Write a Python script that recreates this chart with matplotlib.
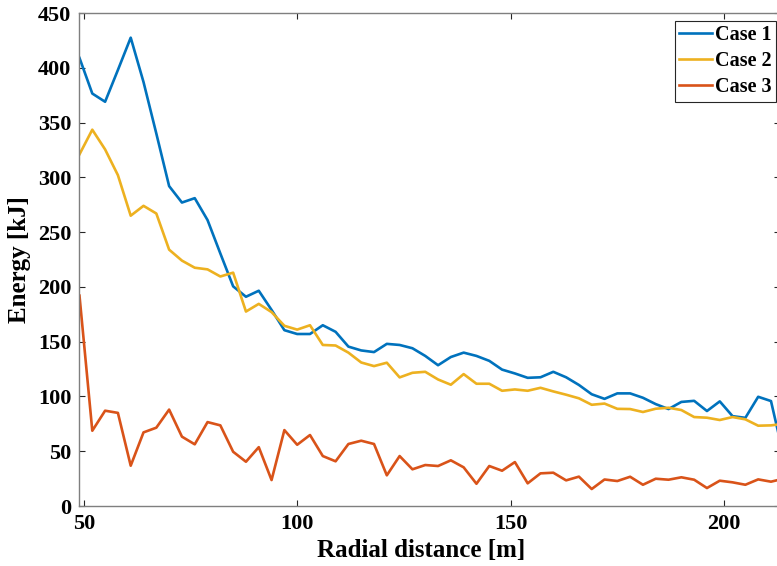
import matplotlib

matplotlib.use("Agg")
import matplotlib.pyplot as plt

# radial distance [m]
radial_distance = [
    49, 52, 55, 58, 61, 64, 67, 70, 73, 76, 79, 82, 85, 88, 91, 94, 97, 100,
    103, 106, 109, 112, 115, 118, 121, 124, 127, 130, 133, 136, 139, 142, 145,
    148, 151, 154, 157, 160, 163, 166, 169, 172, 175, 178, 181, 184, 187, 190,
    193, 196, 199, 202, 205, 208, 211, 214,
]

# energy [kJ]
case1 = [
    409, 376.5, 369, 398, 427.5, 387, 340, 292, 277, 281, 261, 230.5, 200.5,
    191, 196.5, 179, 160.5, 157, 157, 165, 159, 145.5, 142, 140.5, 148, 147,
    144, 137, 128.5, 136, 140, 137, 132.5, 124.5, 121, 117, 117.5, 122.5,
    117.5, 110.5, 102, 97.8, 102.8, 102.8, 98.8, 93, 88.5, 95, 96, 86.7, 95.5,
    82, 80.5, 99.7, 95.8, 45,
]
case2 = [
    321, 343.5, 325.5, 302, 265, 274, 267, 234, 224, 217.5, 216, 209.5, 213,
    177.5, 184.5, 177, 164.5, 161, 165, 147, 146.5, 140, 131, 127.7, 130.8,
    117.4, 121.6, 122.5, 115.5, 110.7, 120.4, 111.6, 111.6, 105.2, 106.4,
    105.2, 107.9, 104.6, 101.6, 98.3, 92.4, 93.5, 88.7, 88.5, 85.8, 88.8,
    89.7, 87.6, 81.2, 80.6, 78.5, 81.2, 79.1, 73.3, 73.6, 75,
]
case3 = [
    192, 68.7, 87, 85, 36.8, 67.2, 71.5, 88, 63.3, 56.3, 76.6, 73.6, 49.5,
    40.4, 53.7, 23.7, 69.3, 55.9, 64.8, 45.6, 40.8, 56.6, 59.6, 56.6, 28,
    45.6, 33.5, 37.4, 36.5, 41.7, 35.3, 20.3, 36.5, 32.2, 40.1, 20.7, 29.8,
    30.4, 23.4, 26.8, 15.5, 24.2, 22.8, 26.7, 19.4, 24.9, 24, 26.2, 24, 16.4,
    23.1, 21.6, 19.4, 24.3, 22.2, 25,
]

series = [
    ("Case 1", case1, "#0072BD"),
    ("Case 2", case2, "#EDB120"),
    ("Case 3", case3, "#D95319"),
]

plt.rcParams["font.family"] = ["Liberation Serif", "DejaVu Serif"]
plt.rcParams["font.weight"] = "bold"

fig = plt.figure(figsize=(7.77, 5.66), dpi=100)
# right edge of the box sits just past the picture edge, as in the original crop
ax = fig.add_axes([0.1023, 0.106, 0.9015, 0.871])

for label, values, color in series:
    ax.plot(radial_distance, values, color=color, linewidth=1.9, label=label)

ax.set_xlim(49.0, 213.1)
ax.set_ylim(0, 450)
ax.set_xticks([50, 100, 150, 200])
ax.set_yticks(range(0, 451, 50))
ax.tick_params(direction="in", length=4.5, width=0.8, color="#262626",
               top=True, right=True, labelsize=16, pad=6)
for label in ax.get_xticklabels() + ax.get_yticklabels():
    label.set_fontweight("bold")
for spine in ax.spines.values():
    spine.set_color("#7f7f7f")
    spine.set_linewidth(1.0)

ax.set_xlabel("Radial distance [m]", fontsize=18, fontweight="bold")
ax.xaxis.set_label_coords(0.4875, -0.066)
ax.set_ylabel("Energy [kJ]", fontsize=18, fontweight="bold", labelpad=5)

leg = ax.legend(
    loc="upper right", bbox_to_anchor=(0.995, 0.984), borderaxespad=0,
    fancybox=False, framealpha=1, edgecolor="#262626", handlelength=1.65,
    handletextpad=0.15, labelspacing=0.3, borderpad=0.22,
    prop={"weight": "bold", "size": 14.5},
)
leg.get_frame().set_linewidth(0.8)

fig.savefig("out.png", dpi=100)
